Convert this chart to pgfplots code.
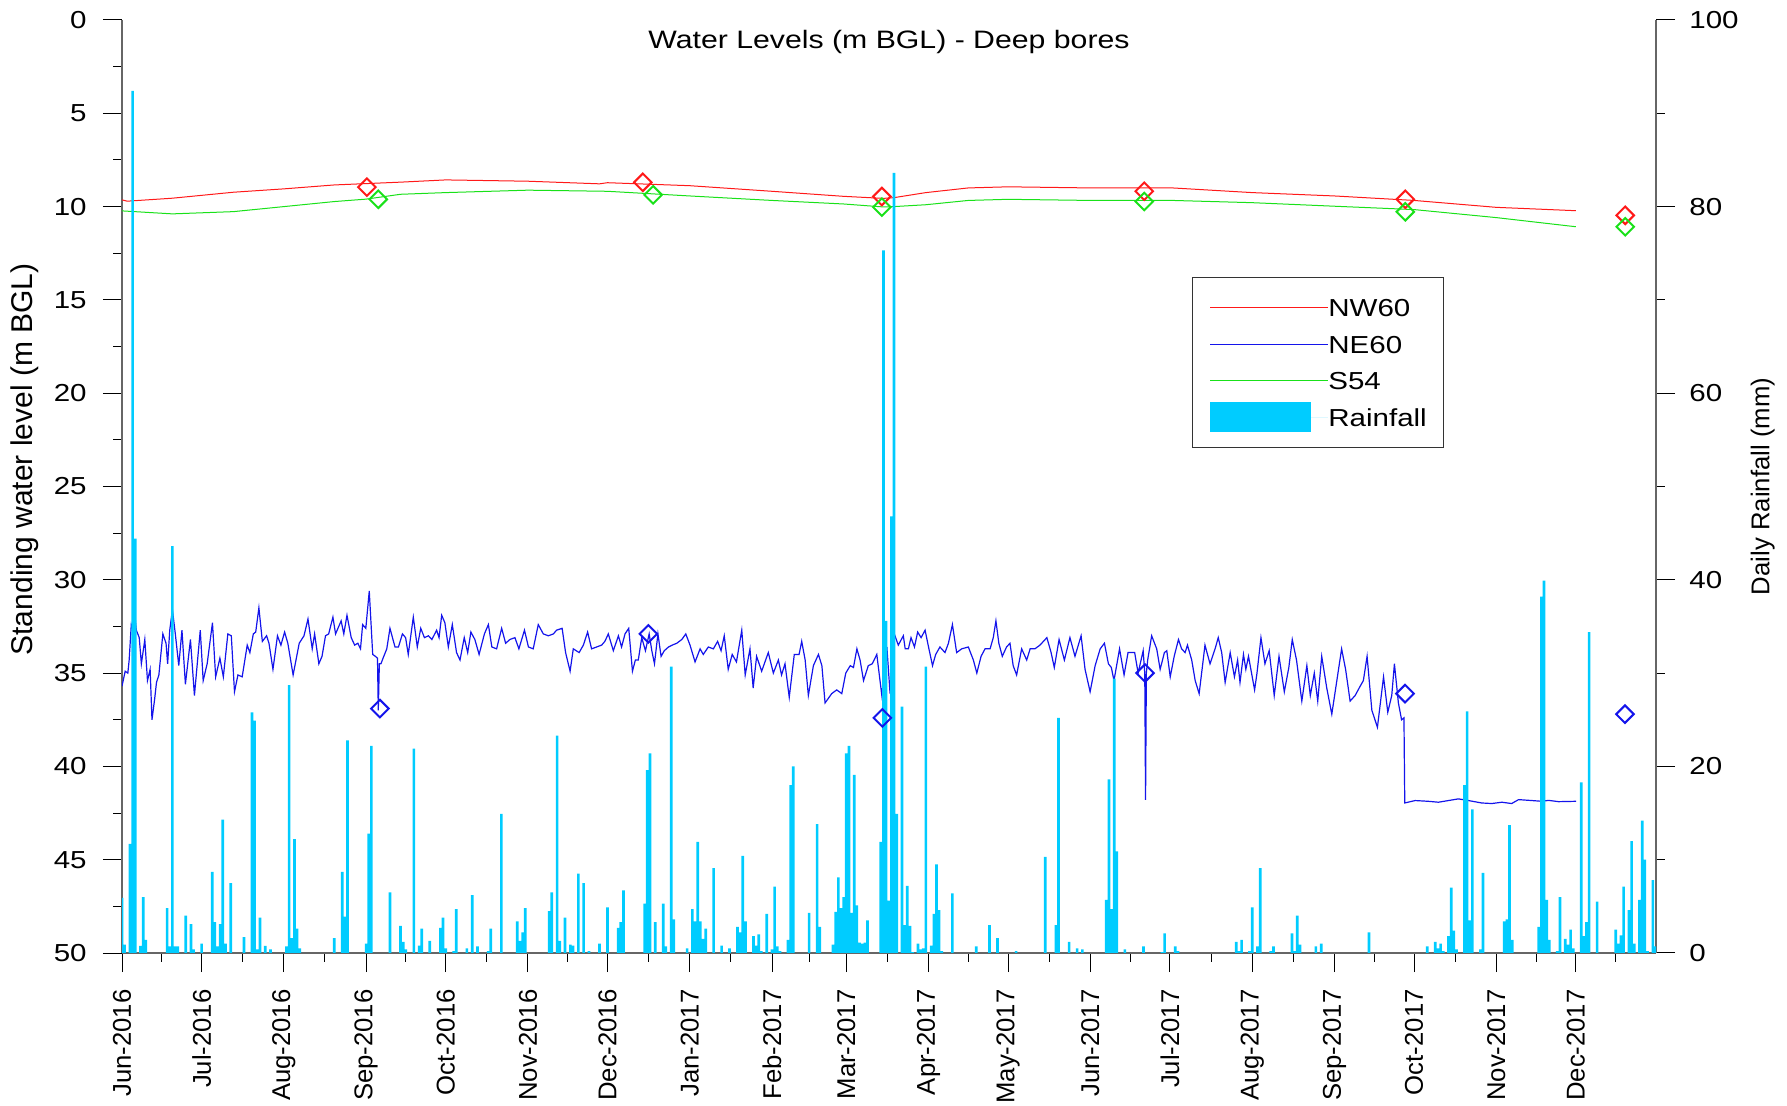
\documentclass[border=0pt]{standalone}
\usepackage{fontspec}
\setmainfont{Liberation Sans}
\newfontfamily\widefont{Liberation Sans}[FakeStretch=1.2]
\usepackage{pgfplots}
\pgfplotsset{compat=1.18}
\definecolor{rain}{RGB}{0,204,255}
\definecolor{nwred}{RGB}{255,25,25}
\definecolor{neblue}{RGB}{20,20,235}
\definecolor{sgreen}{RGB}{25,225,25}
\newcommand{\wf}{\widefont\fontsize{12.3}{14}\selectfont}
\newcommand{\rf}{\fontsize{12.85}{14}\selectfont}
\pgfplotsset{
  common/.style={
    scale only axis, width=767pt, height=466.5pt,
    at={(61pt,76.5pt)}, anchor=south west,
    xmin=0, xmax=578.2,
    axis line style={-, black!60, line width=0.8pt},
    tick style={black, line width=0.5pt},
    tick align=outside,
    major tick length=9.5pt, minor tick length=4.3pt,
    /pgf/number format/assume math mode=true,
  },
}
\begin{document}
\begin{tikzpicture}
\useasboundingbox (0,0) rectangle (893.5pt,553pt);
% ---------------- groundwater lines (left axis)
\begin{axis}[common,
  ymin=0, ymax=50, y dir=reverse,
  axis x line*=bottom, axis y line*=left,
  xtick={0,30,61,92,122,153,183,214,245,273,304,334,365,395,426,457,487,518,548},
  xticklabels={Jun-2016,Jul-2016,Aug-2016,Sep-2016,Oct-2016,Nov-2016,Dec-2016,Jan-2017,Feb-2017,Mar-2017,Apr-2017,May-2017,Jun-2017,Jul-2017,Aug-2017,Sep-2017,Oct-2017,Nov-2017,Dec-2017},
  minor xtick={15,45.5,76.5,107,137.5,168,198.5,229.5,259,288.5,319,349.5,380,410.5,441.5,472,502.5,533,563},
  ytick={0,5,...,50}, minor ytick={2.5,7.5,...,47.5},
  xticklabel style={rotate=90, anchor=east, font=\rf, inner sep=0pt},
  yticklabel style={font=\wf, anchor=east, inner sep=0pt},
  xticklabel shift=8.5pt, yticklabel shift=8pt,
  ylabel={Standing water level (m BGL)},
  ylabel style={at={(axis description cs:-0.0632,0.529)}, anchor=center, font=\fontsize{15}{17}\selectfont},
]
\addplot[nwred, line width=0.5pt] coordinates {(0,9.64)(2,9.71)(19,9.55)(42,9.23)(61,9.05)(80,8.84)(105,8.69)(122,8.57)(153,8.64)(180,8.78)(183,8.72)(214,8.88)(245,9.18)(272,9.45)(287,9.56)(291,9.52)(303,9.25)(319,9.0)(334,8.94)(365,9.0)(396,9.0)(426,9.25)(457,9.43)(487,9.67)(518,10.04)(548,10.22)};
\addplot[sgreen, line width=0.5pt] coordinates {(0,10.23)(19,10.39)(42,10.27)(61,10.0)(80,9.73)(92,9.6)(105,9.34)(122,9.25)(153,9.12)(183,9.18)(214,9.43)(245,9.67)(272,9.86)(287,10.02)(291,10.0)(303,9.9)(319,9.67)(334,9.61)(365,9.67)(396,9.67)(426,9.79)(457,9.98)(487,10.16)(518,10.59)(548,11.08)};
\addplot[neblue, line width=0.6pt] coordinates {(0,35.7)(1.2,34.9)(2.2,35.0)(2.7,34.3)(3.5,32.4)(4.2,32.7)(4.8,31.8)(5.4,32.7)(6.5,33.1)(7.3,34.5)(8.6,33.2)(9.6,35.4)(10.6,34.8)(11.3,37.5)(12.3,36.4)(13.0,35.5)(13.9,35.1)(15.4,32.9)(16.6,33.4)(17.2,34.5)(18.0,32.7)(19.0,31.6)(20.1,32.9)(21.4,34.6)(22.6,32.7)(23.9,35.6)(25.8,33.2)(27.3,36.2)(29.5,32.7)(30.6,35.4)(32.1,34.5)(34.1,32.3)(35.3,35.2)(36.9,34.2)(38.2,35.2)(39.9,32.9)(41.2,33.0)(42.4,36.0)(43.7,35.1)(45.3,35.2)(47.2,33.5)(48.2,33.9)(49.5,32.9)(50.4,32.8)(51.6,31.5)(52.9,33.3)(54.5,33.0)(55.4,33.4)(56.9,34.8)(58.6,33.0)(59.9,33.5)(61.3,32.8)(62.5,33.4)(64.5,35.1)(66.8,33.4)(68.6,33.0)(70.1,32.1)(71.7,33.7)(72.6,32.9)(74.2,34.5)(75.4,34.1)(76.7,33.0)(77.9,32.9)(79.5,32.0)(80.5,32.9)(82.6,32.2)(83.6,32.9)(84.8,31.9)(86.4,33.1)(87.7,33.5)(88.9,33.4)(89.9,33.7)(90.7,32.4)(91.9,32.6)(93.2,30.6)(94.5,34.0)(95.5,34.1)(96.3,34.2)(96.6,37.0)(97.0,34.5)(97.6,34.5)(98.4,34.2)(99.8,33.7)(101.0,32.6)(102.9,33.6)(104.2,33.6)(105.7,32.9)(106.9,33.1)(107.9,34.0)(109.8,32.0)(111.3,33.6)(112.6,32.6)(114.0,33.1)(115.5,33.0)(116.8,33.2)(118.6,32.7)(119.5,33.1)(120.5,31.9)(121.7,32.3)(123.0,33.6)(124.5,32.4)(126.1,33.9)(127.4,34.3)(129.0,33.1)(130.3,33.9)(131.5,32.8)(133.0,33.2)(134.6,34.0)(136.6,32.9)(138.1,32.4)(139.4,33.6)(141.2,33.7)(143.1,32.6)(144.6,33.4)(146.2,33.2)(148.1,33.1)(149.6,33.7)(151.7,32.7)(153.2,33.6)(155.0,33.7)(156.9,32.4)(158.8,32.9)(160.7,33.0)(162.6,32.9)(163.8,32.7)(165.9,32.6)(167.2,33.9)(168.9,34.9)(170.1,33.7)(172.3,33.9)(173.9,33.5)(175.5,32.8)(177.0,33.7)(178.9,33.6)(180.8,33.5)(182.0,33.3)(183.3,32.9)(185.2,33.8)(187.1,33.0)(188.3,33.6)(189.6,32.9)(191.0,32.6)(192.4,34.9)(193.5,34.3)(194.6,34.3)(195.9,33.1)(197.3,33.8)(198.7,32.9)(199.7,33.8)(200.7,34.5)(202.0,32.9)(203.2,34.1)(204.4,33.8)(206.0,33.6)(207.4,33.5)(209.1,33.4)(211.0,33.2)(212.5,32.9)(214.1,33.5)(216.0,34.4)(217.9,33.7)(219.1,34.0)(221.0,33.6)(222.9,33.7)(224.5,33.3)(225.8,33.8)(227.0,33.0)(228.5,34.8)(230.0,34.0)(231.6,34.4)(233.6,32.7)(234.9,35.1)(236.7,33.7)(237.9,35.8)(239.2,34.1)(241.1,34.9)(243.6,33.9)(245.5,35.0)(247.4,34.3)(248.6,35.1)(249.9,34.5)(251.5,36.3)(253.4,34.0)(255.2,34.0)(256.2,33.3)(257.5,34.3)(258.7,36.2)(260.6,34.6)(262.5,34.0)(263.8,34.6)(265.0,36.6)(267.5,36.1)(269.4,35.9)(271.3,36.1)(272.8,35.0)(274.5,34.6)(275.7,34.7)(277.0,33.7)(278.2,34.3)(279.5,35.4)(281.3,34.6)(282.8,34.5)(284.5,34.0)(286.4,36.2)(288.3,33.6)(289.5,36.1)(291.1,32.9)(292.6,33.5)(294.5,33.0)(295.2,33.7)(296.4,33.7)(297.4,33.1)(298.7,33.6)(299.9,32.8)(301.2,33.1)(302.7,32.7)(304.0,33.6)(305.5,34.6)(306.7,34.0)(308.3,33.6)(310.2,33.9)(311.5,33.4)(313.0,32.4)(314.6,33.9)(316.5,33.7)(319.0,33.6)(320.9,34.3)(322.2,35.0)(323.8,34.1)(325.3,33.7)(327.2,33.7)(328.4,33.1)(329.4,32.2)(330.5,33.4)(331.8,34.1)(333.4,33.6)(334.7,33.4)(335.9,34.6)(337.2,35.1)(339.1,33.7)(341.0,34.3)(342.3,33.7)(344.1,33.7)(346.0,33.5)(348.6,33.1)(350.2,33.9)(351.4,34.7)(353.2,33.2)(355.2,34.3)(357.3,33.1)(359.2,34.1)(361.5,33.0)(363.0,34.8)(364.9,36.0)(366.8,34.6)(368.7,33.7)(370.3,33.4)(371.8,34.5)(372.9,34.7)(373.9,35.4)(376.0,33.7)(377.7,35.1)(379.2,33.9)(381.7,33.9)(383.0,35.0)(384.9,33.8)(385.5,35.0)(385.8,41.8)(386.1,35.0)(386.6,34.3)(388.1,33.0)(390.0,33.7)(391.3,34.8)(392.9,33.9)(393.8,33.8)(395.1,35.2)(396.6,34.1)(398.2,33.2)(399.4,33.7)(400.7,33.9)(401.6,33.5)(403.2,34.3)(404.5,35.4)(406.0,36.1)(408.2,33.5)(410.1,34.5)(412.0,33.7)(413.2,33.1)(414.5,33.9)(415.8,35.5)(417.7,33.9)(419.3,35.2)(420.5,34.3)(421.4,35.5)(422.7,34.0)(423.6,34.8)(424.6,34.1)(426.9,35.9)(427.8,35.0)(429.3,33.1)(430.8,34.5)(432.4,33.8)(434.3,36.2)(436.1,34.1)(438.1,36.0)(439.8,34.7)(441.1,33.2)(442.7,34.3)(444.7,36.5)(446.6,34.6)(447.9,36.2)(449.4,35.0)(450.7,36.5)(452.2,34.1)(454.1,35.8)(456.0,37.2)(457.9,35.4)(459.7,33.7)(461.2,34.8)(462.9,36.5)(464.8,36.2)(466.7,35.7)(467.9,35.4)(469.3,34.1)(471.1,37.0)(473.2,37.9)(475.5,35.2)(477.1,37.1)(478.6,36.2)(479.6,34.5)(481.1,36.6)(482.3,37.5)(483.2,37.4)(483.5,41.96)(487.4,41.83)(492.4,41.87)(496.2,41.92)(500.0,41.83)(503.7,41.74)(507.5,41.83)(512.5,41.96)(516.3,41.99)(520.1,41.92)(523.8,41.99)(526.4,41.78)(531.4,41.83)(535.2,41.87)(537.7,41.82)(541.5,41.89)(548.1,41.87)};
\end{axis}
% ---------------- rainfall (right axis)
\begin{axis}[common,
  ymin=0, ymax=100,
  axis x line=none, xtick=\empty, axis y line*=right,
  ytick={0,20,...,100}, minor ytick={10,30,...,90},
  yticklabel style={font=\wf, anchor=west, inner sep=0pt},
  yticklabel shift=7pt,
  ylabel={Daily Rainfall (mm)},
  ylabel style={at={(axis description cs:1.0696,0.5)}, anchor=center, font=\rf},
  title={Water Levels (m BGL) - Deep bores},
  title style={at={(axis description cs:0.5,1)}, anchor=base, yshift=-20.2pt, font=\widefont\fontsize{12.6}{14}\selectfont},
  legend cell align=left,
  legend image code/.code={\draw[#1] (0pt,0pt) -- (50.5pt,0pt); \path (0pt,0pt) -- (58.8pt,0pt);},
  legend style={at={(axis description cs:0.6975,0.7245)}, anchor=north west, draw=black!80, line width=0.6pt, fill=white, font=\wf, inner xsep=8.5pt, inner ysep=7.5pt, row sep=3.3pt, nodes={inner sep=0pt, text height=11.9pt, text depth=3.1pt}},
]
\addlegendimage{nwred, line width=0.5pt}
\addlegendentry{NW60}
\addlegendimage{neblue, line width=0.6pt}
\addlegendentry{NE60}
\addlegendimage{sgreen, line width=0.5pt}
\addlegendentry{S54}
\addplot[ybar, bar width=1, bar shift=0pt, fill=rain, draw=none,
  legend image code/.code={\fill[rain] (0pt,-7.5pt) rectangle (50.5pt,7.5pt); \path (0pt,0pt) -- (58.8pt,0pt);}]
  coordinates {(0,5.9)(1,0.9)(3,11.7)(4,92.4)(5,44.4)(7,0.75)(8,6.0)(9,1.4)(17,4.8)(18,0.7)(19,43.6)(20,0.7)(21,0.7)(24,4.0)(26,3.1)(27,0.4)(30,1.0)(34,8.7)(35,3.3)(36,0.7)(37,3.1)(38,14.3)(39,1.0)(41,7.5)(46,1.7)(49,25.8)(50,24.9)(51,0.4)(52,3.8)(54,0.75)(56,0.4)(62,0.7)(63,28.7)(64,1.6)(65,12.2)(66,2.6)(67,0.5)(80,1.6)(83,8.7)(84,3.9)(85,22.8)(92,1.0)(93,12.8)(94,22.2)(101,6.5)(105,2.9)(106,1.2)(107,0.4)(110,21.9)(112,0.8)(113,2.6)(116,1.3)(120,2.7)(121,3.8)(122,0.5)(125,0.2)(126,4.7)(130,0.5)(132,6.2)(134,0.7)(138,0.2)(139,2.6)(143,14.9)(149,3.4)(150,1.3)(151,2.2)(152,4.8)(161,4.5)(162,6.5)(164,23.3)(165,1.3)(167,3.8)(169,0.9)(170,0.8)(172,8.5)(174,7.5)(176,0.2)(180,1.0)(183,4.9)(187,2.7)(188,3.3)(189,6.7)(197,5.3)(198,19.6)(199,21.4)(201,3.3)(204,5.3)(205,0.7)(207,30.7)(208,3.6)(213,0.5)(215,4.7)(216,3.4)(217,11.9)(218,3.4)(219,1.5)(220,2.6)(223,9.1)(226,0.8)(229,0.5)(232,2.8)(233,2.2)(234,10.4)(235,3.4)(238,1.8)(239,0.8)(240,2.0)(241,0.2)(243,4.2)(245,0.4)(246,7.1)(247,0.7)(248,0.2)(251,1.4)(252,18.0)(253,20.0)(259,4.3)(262,13.8)(263,2.8)(268,0.9)(269,4.4)(270,8.1)(271,4.8)(272,6.0)(273,21.4)(274,22.2)(275,4.3)(276,19.1)(277,5.1)(278,1.1)(279,1.0)(280,1.1)(281,3.5)(286,11.9)(287,75.3)(288,35.6)(289,5.6)(290,46.8)(291,83.6)(292,14.9)(294,26.4)(295,3.0)(296,7.2)(297,2.9)(298,0.1)(300,1.0)(301,0.4)(302,0.5)(303,30.7)(305,0.8)(306,4.2)(307,9.5)(308,4.6)(309,0.2)(313,6.4)(322,0.7)(327,3.0)(330,1.6)(337,0.2)(348,10.3)(352,3.0)(353,25.2)(357,1.2)(360,0.5)(362,0.4)(371,5.7)(372,18.6)(373,4.7)(374,29.4)(375,10.9)(378,0.4)(385,0.7)(392,0.1)(393,2.1)(397,0.7)(398,0.2)(420,1.2)(421,0.2)(422,1.4)(425,0.2)(426,4.9)(428,0.7)(429,9.1)(433,0.2)(434,0.7)(441,2.1)(442,0.2)(443,4.0)(444,0.9)(450,0.7)(452,1.0)(470,2.2)(492,0.7)(495,1.2)(496,0.5)(497,1.0)(498,0.2)(500,1.8)(501,7.0)(502,2.4)(503,0.4)(506,18.0)(507,25.9)(508,3.5)(509,15.4)(512,0.4)(513,8.6)(521,3.4)(522,3.6)(523,13.7)(524,1.4)(534,2.8)(535,38.2)(536,39.9)(537,5.7)(538,1.4)(541,0.2)(542,6.0)(544,1.5)(545,0.9)(546,2.5)(547,0.5)(550,18.3)(551,1.8)(552,3.3)(553,34.4)(556,5.5)(563,2.5)(564,1.0)(565,1.9)(566,7.1)(568,4.6)(569,12.0)(570,1.0)(572,5.7)(573,14.2)(574,10.0)(575,0.2)(577,7.8)(578,0.7)};
\addlegendentry{Rainfall}
\end{axis}
% ---------------- manual measurements (left axis, hidden)
\begin{axis}[common, ymin=0, ymax=50, y dir=reverse, hide axis]
\addplot[only marks, mark=square, mark size=3.1pt, mark options={rotate=45, draw=nwred, line width=1pt, fill=none}] coordinates {(92.3,8.96)(196.3,8.7)(286.4,9.46)(385.3,9.18)(483.7,9.61)(566.6,10.47)};
\addplot[only marks, mark=square, mark size=3.1pt, mark options={rotate=45, draw=sgreen, line width=1pt, fill=none}] coordinates {(96.6,9.61)(200.2,9.37)(286.4,10.03)(385.3,9.73)(483.7,10.28)(566.6,11.08)};
\addplot[only marks, mark=square, mark size=3.1pt, mark options={rotate=45, draw=neblue, line width=1pt, fill=none}] coordinates {(97.2,36.9)(198.4,32.9)(286.6,37.4)(385.6,35.0)(483.6,36.1)(566.5,37.2)};
\end{axis}
\end{tikzpicture}
\end{document}
